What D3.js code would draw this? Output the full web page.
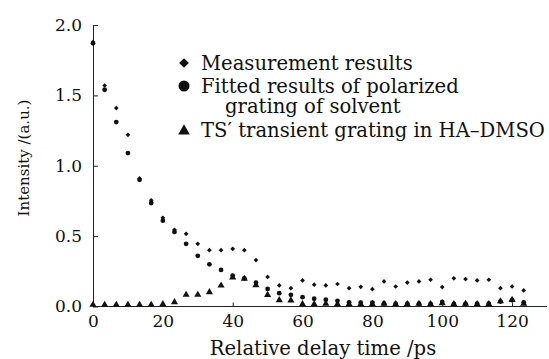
<!DOCTYPE html>
<html>
<head>
<meta charset="utf-8">
<script src="https://cdn.jsdelivr.net/npm/d3@7"></script>
<style>
  body { margin: 0; background: #fff; }
  svg { display: block; font-family: "DejaVu Serif", "Liberation Serif", serif; }
</style>
</head>
<body>
<div id="chart"></div>
<script>
// Delay times (ps): one sample every 10/3 ps
const delays = d3.range(38).map(i => i * 10 / 3);

// Measurement results (diamonds)
const measured = [1.88, 1.57, 1.41, 1.22, 0.91, 0.755, 0.63, 0.545, 0.516, 0.445, 0.40, 0.40,
    0.41, 0.40, 0.33, 0.21, 0.15, 0.13, 0.185, 0.155, 0.15, 0.16, 0.13, 0.14,
    0.123, 0.178, 0.142, 0.17, 0.178, 0.19, 0.138, 0.20, 0.195, 0.185, 0.19, 0.13,
    0.142, 0.114];

// Fitted polarized grating of solvent (circles)
const fittedSolvent = [1.87, 1.54, 1.31, 1.09, 0.90, 0.735, 0.61, 0.53, 0.445, 0.36, 0.30, 0.26,
    0.22, 0.20, 0.17, 0.125, 0.095, 0.083, 0.066, 0.055, 0.048, 0.04, 0.03, 0.028,
    0.028, 0.022, 0.02, 0.02, 0.02, 0.018, 0.032, 0.018, 0.018, 0.02, 0.02, 0.035,
    0.045, 0.03];

// TS' transient grating in HA-DMSO (triangles)
const transient = [0.005, 0.005, 0.005, 0.005, 0.005, 0.005, 0.01, 0.024, 0.076, 0.076, 0.095, 0.142,
    0.20, 0.19, 0.145, 0.075, 0.038, 0.036, 0.01, 0.01, 0.012, 0.01, 0.01, 0.01,
    0.01, 0.012, 0.01, 0.01, 0.012, 0.01, 0.016, 0.01, 0.012, 0.01, 0.01, 0.03,
    0.04, 0.012];

const xTicks = [0, 20, 40, 60, 80, 100, 120];
const yTicks = [0, 0.5, 1.0, 1.5, 2.0];

const legendLabels = [
    ["Measurement results"],
    ["Fitted results of polarized", "grating of solvent"],
    ["TS\u2032 transient grating in HA\u2013DMSO"]
];

const width = 549, height = 359;

const svg = d3.select("#chart").append("svg")
    .attr("width", width)
    .attr("height", height);

const x = d3.scaleLinear().domain([0, 130]).range([93, 547]);
const y = d3.scaleLinear().domain([0, 2]).range([306.5, 25]);

const diamondType = d3.symbolDiamond2 || d3.symbolDiamond;

// Axes
const xAxis = svg.append("g")
    .attr("transform", `translate(0,${y(0)})`)
    .call(d3.axisBottom(x).tickValues(xTicks).tickSize(-4).tickSizeOuter(0).tickPadding(8).tickFormat(d3.format("d")));

const yAxis = svg.append("g")
    .attr("transform", `translate(${x(0)},0)`)
    .call(d3.axisLeft(y).tickValues(yTicks).tickSize(-5).tickSizeOuter(0).tickPadding(11).tickFormat(d3.format(".1f")));

[xAxis, yAxis].forEach(g => {
    g.select(".domain").attr("stroke", "#222").attr("stroke-width", 1);
    g.selectAll(".tick line").attr("stroke", "#222");
    g.selectAll("text")
        .style("font-family", "DejaVu Serif, serif")
        .style("font-size", "17px")
        .attr("fill", "#111");
});
xAxis.select(".domain").attr("d", `M${x(0)},0H${x(130)}`);
xAxis.selectAll(".tick").filter(d => d === 0).select("line").remove();

// Axis labels
svg.append("text")
    .attr("x", 323)
    .attr("y", 355)
    .attr("text-anchor", "middle")
    .style("font-size", "19.6px")
    .attr("fill", "#111")
    .text("Relative delay time /ps");

svg.append("text")
    .attr("transform", "rotate(-90)")
    .attr("x", -158)
    .attr("y", 29)
    .attr("text-anchor", "middle")
    .style("font-size", "15px")
    .attr("fill", "#111")
    .text("Intensity /(a.u.)");

// Series
const plot = svg.append("g");

plot.selectAll("path.tri")
    .data(delays)
    .join("path")
    .attr("class", "tri")
    .attr("transform", (d, i) => `translate(${x(d)},${y(transient[i]) - 1})`)
    .attr("d", d3.symbol(d3.symbolTriangle, 22))
    .attr("fill", "#111");

plot.selectAll("circle.fit")
    .data(delays)
    .join("circle")
    .attr("class", "fit")
    .attr("cx", d => x(d))
    .attr("cy", (d, i) => y(fittedSolvent[i]))
    .attr("r", 2.4)
    .attr("fill", "#111");

plot.selectAll("path.meas")
    .data(delays)
    .join("path")
    .attr("class", "meas")
    .attr("transform", (d, i) => `translate(${x(d)},${y(measured[i])})`)
    .attr("d", d3.symbol(diamondType, 14))
    .attr("fill", "#111");

// Legend
const legend = svg.append("g").attr("transform", "translate(184,0)");

legend.append("path")
    .attr("transform", "translate(0,63)")
    .attr("d", d3.symbol(diamondType, 60))
    .attr("fill", "#111");
legend.append("circle")
    .attr("cx", 0).attr("cy", 86).attr("r", 5.5)
    .attr("fill", "#111");
legend.append("path")
    .attr("transform", "translate(0,131)")
    .attr("d", d3.symbol(d3.symbolTriangle, 60))
    .attr("fill", "#111");

const legendText = legend.append("g")
    .style("font-size", "19.6px")
    .attr("fill", "#111");
legendText.append("text").attr("x", 17).attr("y", 69.5).text(legendLabels[0][0]);

// two-line entry kept in one text element
const fittedText = legendText.append("text").attr("x", 17).attr("y", 92.5);
fittedText.append("tspan").attr("x", 17).text(legendLabels[1][0]);
fittedText.append("tspan").attr("x", 41).attr("dy", 20).text(legendLabels[1][1]);

legendText.append("text").attr("x", 17).attr("y", 137).text(legendLabels[2][0]);
</script>
</body>
</html>
